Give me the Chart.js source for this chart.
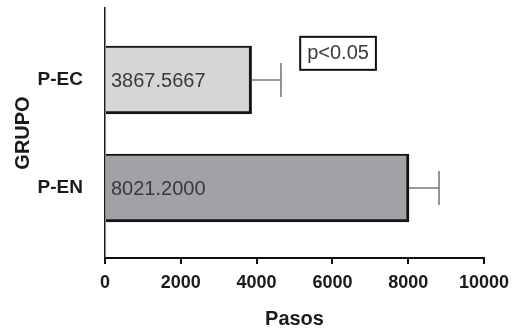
<!DOCTYPE html>
<html>
<head>
<meta charset="utf-8">
<script src="https://cdn.jsdelivr.net/npm/chart.js@4"></script>
<style>
  html, body { margin:0; padding:0; background:#fff; }
  #wrap { width:512px; height:331px; position:relative; }
</style>
</head>
<body>
<div id="wrap"><canvas id="chart"></canvas></div>
<script>
const groups = ['P-EC', 'P-EN'];
const means = [3867.5667, 8021.2000];
const sds = [776, 792];
const valueLabels = ['3867.5667', '8021.2000'];
const barColors = ['#d6d6d6', '#a2a1a6'];
const xTicks = [0, 2000, 4000, 6000, 8000, 10000];
const pNote = { text: 'p<0.05', x: 5150, y: -0.40 };

const FONT = "'Liberation Sans', Arial, sans-serif";

const errorBars = {
  id: 'errorBars',
  afterDatasetsDraw(chart) {
    const { ctx, scales: { x, y } } = chart;
    ctx.save();
    ctx.strokeStyle = '#7a7a7a';
    ctx.lineWidth = 1.6;
    means.forEach((m, i) => {
      const yc = y.getPixelForValue(i);
      const x0 = x.getPixelForValue(m);
      const x1 = x.getPixelForValue(m + sds[i]);
      ctx.beginPath();
      ctx.moveTo(x0, yc); ctx.lineTo(x1, yc);
      ctx.moveTo(x1, yc - 17); ctx.lineTo(x1, yc + 17);
      ctx.stroke();
    });
    // values written inside the bars
    ctx.font = '20px ' + FONT;
    ctx.fillStyle = '#3a3a3a';
    ctx.textAlign = 'left';
    ctx.textBaseline = 'middle';
    valueLabels.forEach((t, i) => {
      ctx.fillText(t, x.getPixelForValue(0) + 6, y.getPixelForValue(i) + 1);
    });
    // p-value box
    const bx = x.getPixelForValue(pNote.x), by = y.getPixelForValue(pNote.y);
    const w = ctx.measureText(pNote.text).width + 14, h = 33;
    ctx.fillText(pNote.text, bx + 7, by + h / 2);
    ctx.strokeStyle = '#111';
    ctx.lineWidth = 2;
    ctx.strokeRect(bx, by, w, h);
    ctx.restore();
  }
};

new Chart(document.getElementById('chart'), {
  type: 'bar',
  data: {
    datasets: [{
      data: means.map((m, i) => ({ x: m, y: i })),
      backgroundColor: barColors,
      borderColor: '#141414',
      borderWidth: { top: 2, right: 3, bottom: 3, left: 0 },
      borderSkipped: false,
      barThickness: 68
    }]
  },
  options: {
    indexAxis: 'y',
    responsive: true,
    maintainAspectRatio: false,
    animation: false,
    layout: { padding: { top: 8, right: 28, left: 0, bottom: 0 } },
    plugins: { legend: { display: false }, tooltip: { enabled: false } },
    scales: {
      x: {
        type: 'linear',
        min: 0, max: 10000,
        afterBuildTicks: s => { s.ticks = xTicks.map(v => ({ value: v })); },
        afterFit: s => { s.height = 73; s.paddingLeft = 0; s.paddingRight = 0; },
        grid: { drawOnChartArea: false, color: '#111', lineWidth: 2, tickLength: 6 },
        border: { color: '#111', width: 2 },
        ticks: { color: '#1a1a1a', padding: 8, callback: v => String(v),
                 font: { family: FONT, size: 18, weight: 'bold' } },
        title: { display: true, text: 'Pasos', color: '#1a1a1a', padding: { top: 0, bottom: 0 },
                 font: { family: FONT, size: 20, weight: 'bold' } }
      },
      y: {
        type: 'linear',
        reverse: true,
        offset: false,
        min: -0.667, max: 1.648,
        afterBuildTicks: s => { s.ticks = groups.map((g, i) => ({ value: i })); },
        afterFit: s => { s.width = 105; s.paddingTop = 0; s.paddingBottom = 0; },
        grid: { display: false },
        border: { color: '#1a1a1a', width: 1.5 },
        ticks: { color: '#1a1a1a', padding: 14, callback: v => groups[v],
                 font: { family: FONT, size: 19, weight: 'bold' } },
        title: { display: true, text: 'GRUPO', color: '#1a1a1a', padding: { top: 11, bottom: 0 },
                 font: { family: FONT, size: 20, weight: 'bold' } }
      }
    }
  },
  plugins: [errorBars]
});
</script>
</body>
</html>
